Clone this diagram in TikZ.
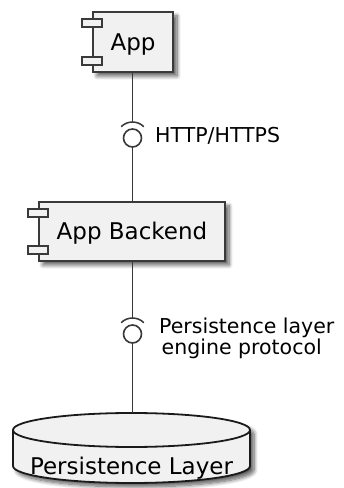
\documentclass[tikz,border=0pt]{standalone}
\usepackage{fontspec}
\setmainfont{DejaVu Sans}
\usetikzlibrary{shadows.blur}

\definecolor{boxfill}{HTML}{F1F1F1}
\definecolor{boxline}{HTML}{3A3A3A}
\definecolor{wire}{HTML}{383838}
\definecolor{dbline}{HTML}{1A1A1A}

\tikzset{
  softshadow/.style={blur shadow={shadow xshift=4pt, shadow yshift=-4pt,
      shadow blur radius=4pt, shadow blur steps=8, shadow opacity=65}},
  comp/.style={rectangle, draw=boxline, line width=2pt, fill=boxfill,
      inner sep=0pt, text height=16.8pt, text depth=0pt,
      font=\fontsize{23}{26}\selectfont, softshadow},
  port/.style={rectangle, draw=boxline, line width=1.8pt, fill=boxfill,
      minimum width=20pt, minimum height=7.5pt, inner sep=0pt},
  wire/.style={draw=wire, line width=1.5pt},
  ring/.style={circle, draw=wire, line width=1.6pt, fill=white,
      minimum size=18pt, inner sep=0pt},
  lbl/.style={font=\fontsize{20.5}{22.5}\selectfont, inner sep=0pt},
}

\begin{document}
\begin{tikzpicture}[x=1pt, y=1pt]
  \useasboundingbox (0,0) rectangle (344,488);

  % components
  \node[comp, minimum width=80pt, minimum height=60pt] (app) at (133,446) {App};
  \node[port] (appportA) at ([yshift=-12pt]app.north west) {};
  \node[port] (appportB) at ([yshift=12pt]app.south west) {};

  \node[comp, minimum width=186pt, minimum height=59pt] (backend) at (132,256.5) {App Backend};
  \node[port] (beportA) at ([yshift=-12pt]backend.north west) {};
  \node[port] (beportB) at ([yshift=12pt]backend.south west) {};

  % database cylinder
  \path[softshadow, draw=dbline, line width=1.8pt, fill=boxfill]
    (13,58) -- (13,22)
    arc[start angle=180, end angle=360, x radius=118.5pt, y radius=17pt]
    -- (250,58)
    arc[start angle=0, end angle=180, x radius=118.5pt, y radius=17pt] -- cycle;
  \draw[dbline, line width=1.8pt]
    (13,58) arc[start angle=180, end angle=360, x radius=118.5pt, y radius=17pt];
  \node[lbl, font=\fontsize{23}{26}\selectfont, text height=16.8pt, text depth=0pt]
    (db) at (131.5,21.5) {Persistence Layer};
  \coordinate (dbtop) at (132.5,75);

  % interface: HTTP/HTTPS
  \node[ring] (ringA) at (132.5,350) {};
  \coordinate (sockA) at ([yshift=16pt]ringA.center);
  \draw[wire] ([shift={(45:16pt)}]ringA.center) arc[start angle=45, end angle=135, radius=16pt];
  \draw[wire] (sockA |- app.south) -- (sockA);
  \draw[wire] (ringA.south) -- (ringA.south |- backend.north);
  \node[lbl, anchor=base west] (http) at (155,345.3) {HTTP/HTTPS};

  % interface: persistence protocol
  \node[ring] (ringB) at (132.5,154) {};
  \coordinate (sockB) at ([yshift=16pt]ringB.center);
  \draw[wire] ([shift={(45:16pt)}]ringB.center) arc[start angle=45, end angle=135, radius=16pt];
  \draw[wire] (sockB |- backend.south) -- (sockB);
  \draw[wire] (ringB.south) -- (dbtop);
  \node[lbl, anchor=base west] (protoA) at (159,154.7) {Persistence layer};
  \node[lbl, anchor=base west] (protoB) at (161.5,133) {engine protocol};
\end{tikzpicture}
\end{document}
